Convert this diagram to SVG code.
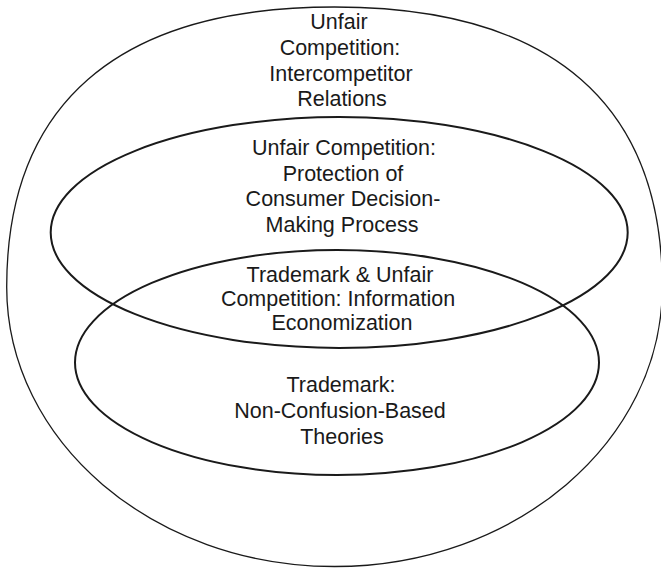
<svg xmlns="http://www.w3.org/2000/svg" width="661" height="568" viewBox="0 0 661 568">
<style>
.bg{fill:#ffffff}
.outer{fill:none;stroke:#1a1a1a;stroke-width:1.3}
.inner{fill:none;stroke:#1a1a1a;stroke-width:2}
.lbl{font-family:"Liberation Sans",Arial,sans-serif;font-size:21.5px;fill:#1a1a1a;text-anchor:middle}
</style>
<rect class="bg" x="0" y="0" width="661" height="568"/>
<g id="outer">
<path class="outer" d="M 6.7 287 C 6.7 107, 114 7, 334.5 7 C 555 7, 662.3 107, 662.3 287 C 662.3 441.4, 515.5 566.5, 334.5 566.5 C 153.5 566.5, 6.7 441.4, 6.7 287 Z"/>
<text class="lbl"><tspan x="339" y="29">Unfair</tspan><tspan x="340" y="55">Competition:</tspan><tspan x="341" y="80.5">Intercompetitor</tspan><tspan x="342" y="106">Relations</tspan></text>
</g>
<g id="consumer">
<ellipse class="inner" cx="339.2" cy="232.5" rx="288.5" ry="115.5"/>
<text class="lbl"><tspan x="344" y="155">Unfair Competition:</tspan><tspan x="343" y="180.5">Protection of</tspan><tspan x="343" y="206">Consumer Decision-</tspan><tspan x="342" y="231.5">Making Process</tspan></text>
</g>
<g id="trademark">
<ellipse class="inner" cx="337" cy="362.5" rx="262" ry="112.5"/>
<text class="lbl"><tspan x="341" y="392">Trademark:</tspan><tspan x="340" y="418">Non-Confusion-Based</tspan><tspan x="342" y="444">Theories</tspan></text>
</g>
<g id="overlap">
<text class="lbl"><tspan x="340" y="282">Trademark &amp; Unfair</tspan><tspan x="338" y="306">Competition: Information</tspan><tspan x="342" y="330">Economization</tspan></text>
</g>
<g id="connectors"></g>
</svg>
